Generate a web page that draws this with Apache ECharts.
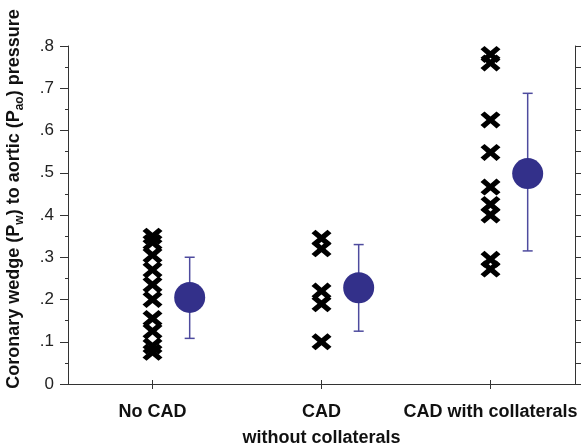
<!DOCTYPE html>
<html>
<head>
<meta charset="utf-8">
<script src="https://cdn.jsdelivr.net/npm/echarts@6/dist/echarts.min.js"></script>
<style>html,body{margin:0;padding:0;background:#fff}#c{width:584px;height:448px}</style>
</head>
<body>
<div id="c"></div>
<script>
var categories = ['No CAD', 'CAD\nwithout collaterals', 'CAD with collaterals'];
var noCad = [0.35, 0.335, 0.305, 0.27, 0.235, 0.2, 0.155, 0.125, 0.09, 0.075];
var cadNoCol = [0.345, 0.32, 0.22, 0.19, 0.10];
var cadCol = [0.78, 0.76, 0.625, 0.548, 0.466, 0.425, 0.40, 0.295, 0.272];
var means = [0.205, 0.228, 0.498];
var errLow = [0.108, 0.125, 0.315];
var errHigh = [0.30, 0.33, 0.688];
var yTicks = [0, 0.1, 0.2, 0.3, 0.4, 0.5, 0.6, 0.7, 0.8];

var groups = [noCad, cadNoCol, cadCol];
var xData = [];
groups.forEach(function (g, i) { g.forEach(function (v) { xData.push([i + 1, v]); }); });
var OFF = 0.22;
var meanData = means.map(function (m, i) { return [i + 1 + OFF, m]; });
var errData = means.map(function (m, i) { return [i + 1 + OFF, errLow[i], errHigh[i]]; });

var xPath = 'path://M2,0 L5,3 L8,0 L10,2 L7,5 L10,8 L8,10 L5,7 L2,10 L0,8 L3,5 L0,2 Z';
var lineColor = '#333';
var FONT = 'Liberation Sans, Arial, sans-serif';
var chart = echarts.init(document.getElementById('c'));
chart.setOption({
  animation: false,
  grid: { left: 68, right: 9, top: 46, bottom: 64, outerBoundsMode: 'none', containLabel: false },
  xAxis: [{
    type: 'value', min: 0.5, max: 3.5, position: 'bottom',
    axisLine: { show: true, lineStyle: { color: lineColor, width: 1 } },
    axisTick: { show: true, length: 5, customValues: [1, 2, 3], lineStyle: { color: lineColor } },
    axisLabel: {
      customValues: [1, 2, 3], margin: 15,
      formatter: function (v) { return categories[Math.round(v) - 1] || ''; },
      fontFamily: FONT, fontWeight: 'bold', fontSize: 18,
      color: '#111', lineHeight: 26
    },
    splitLine: { show: false }
  }, {
    type: 'value', min: 0.5, max: 3.5, position: 'top',
    axisLine: { show: true, lineStyle: { color: lineColor, width: 1 } },
    axisTick: { show: true, length: 4, customValues: [1, 2, 3], lineStyle: { color: lineColor } },
    axisLabel: { show: false },
    splitLine: { show: false }
  }],
  yAxis: [{
    type: 'value', min: 0, max: 0.8, interval: 0.1, position: 'left',
    axisLine: { show: true, lineStyle: { color: lineColor, width: 1 } },
    axisTick: { show: true, length: 8, lineStyle: { color: lineColor } },
    minorTick: { show: true, splitNumber: 2, length: 3, lineStyle: { color: lineColor } },
    axisLabel: {
      margin: 14, fontFamily: FONT, fontSize: 17, color: '#222',
      formatter: function (v) { return v === 0 ? '0' : v.toFixed(1).replace(/^0/, ''); }
    },
    splitLine: { show: false }
  }, {
    type: 'value', min: 0, max: 0.8, interval: 0.05, position: 'right',
    axisLine: { show: true, lineStyle: { color: lineColor, width: 1 } },
    axisTick: { show: true, length: 6, lineStyle: { color: lineColor } },
    axisLabel: { show: false },
    splitLine: { show: false }
  }],
  graphic: [{
    type: 'text', x: 14, y: 199, rotation: Math.PI / 2,
    style: {
      text: '{a|Coronary wedge (P}{s|w}{a|) to aortic (P}{s|ao}{a|) pressure}',
      align: 'center', verticalAlign: 'middle',
      rich: {
        a: { fontFamily: FONT, fontWeight: 'bold', fontSize: 18, fill: '#111', lineHeight: 24, verticalAlign: 'middle' },
        s: { fontFamily: FONT, fontWeight: 'bold', fontSize: 12, fill: '#111', lineHeight: 24, verticalAlign: 'bottom' }
      }
    }
  }],
  series: [{
    type: 'scatter', xAxisIndex: 0, yAxisIndex: 0, data: xData,
    symbol: xPath, symbolSize: [20, 17],
    itemStyle: { color: '#000', opacity: 1 }, z: 3
  }, {
    type: 'custom', xAxisIndex: 0, yAxisIndex: 0, data: errData,
    renderItem: function (params, api) {
      var x = api.value(0);
      var lo = api.coord([x, api.value(1)]);
      var hi = api.coord([x, api.value(2)]);
      var cw = 5;
      var st = { stroke: '#4e4b9e', lineWidth: 1.5 };
      return { type: 'group', children: [
        { type: 'line', shape: { x1: lo[0], y1: lo[1], x2: hi[0], y2: hi[1] }, style: st },
        { type: 'line', shape: { x1: lo[0] - cw, y1: lo[1], x2: lo[0] + cw, y2: lo[1] }, style: st },
        { type: 'line', shape: { x1: hi[0] - cw, y1: hi[1], x2: hi[0] + cw, y2: hi[1] }, style: st }
      ] };
    },
    z: 2
  }, {
    type: 'scatter', xAxisIndex: 0, yAxisIndex: 0, data: meanData,
    symbol: 'circle', symbolSize: 31,
    itemStyle: { color: '#33308a', opacity: 1 }, z: 4
  }]
});
</script>
</body>
</html>
